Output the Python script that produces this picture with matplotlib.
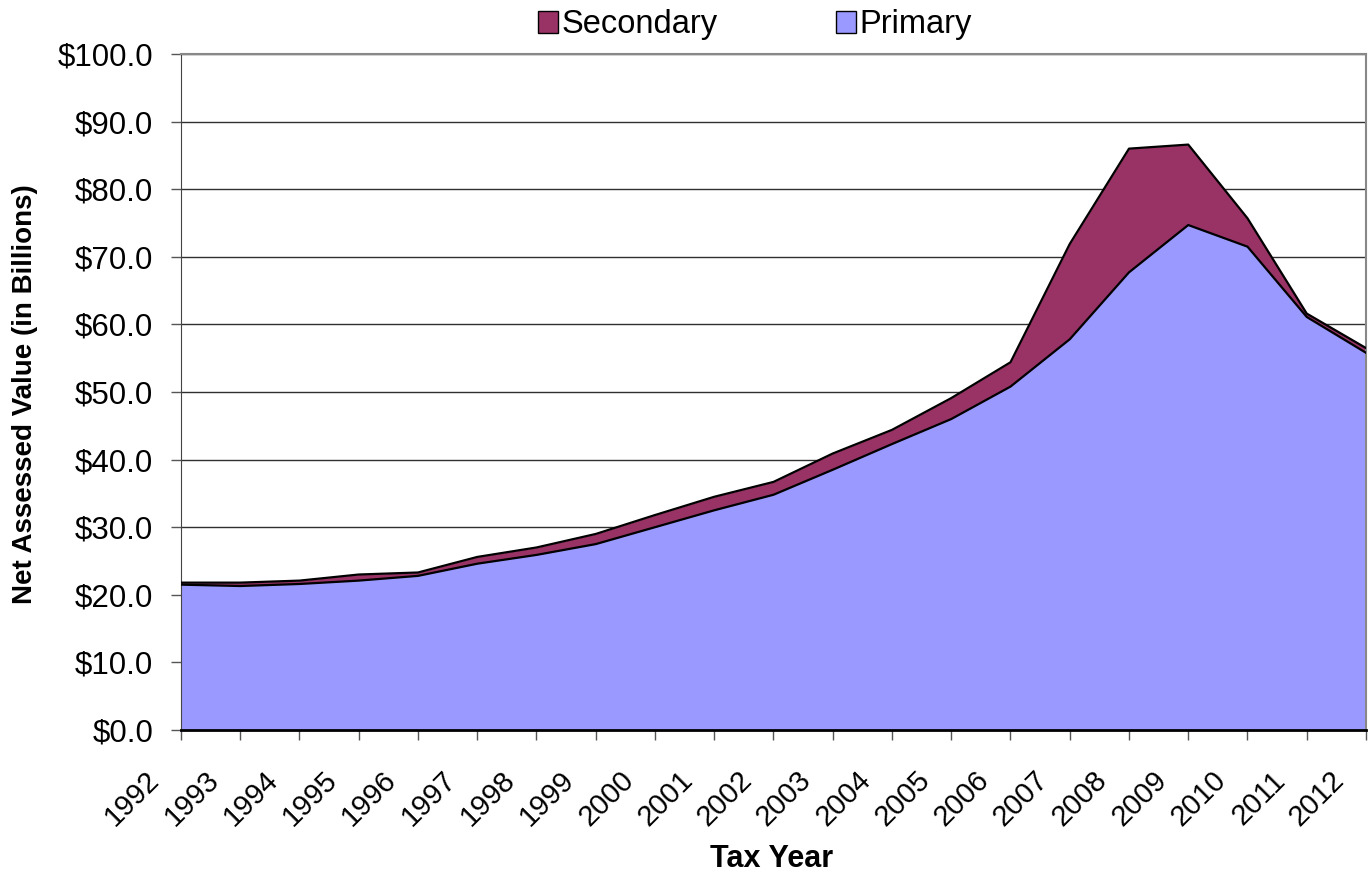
import numpy as np
import matplotlib.pyplot as plt
from matplotlib.patches import Patch
import matplotlib.transforms as mtransforms

plt.rcParams['font.family'] = ['Liberation Sans', 'DejaVu Sans']

years = list(range(1992, 2013))
# in billions of dollars
primary = [21.5, 21.3, 21.6, 22.1, 22.8, 24.6, 25.9, 27.5, 30.0, 32.5, 34.8,
           38.5, 42.3, 46.0, 50.8, 57.8, 67.7, 74.7, 71.5, 61.1, 55.8]
total = [21.8, 21.8, 22.1, 23.0, 23.3, 25.6, 27.0, 29.0, 31.8, 34.5, 36.7,
         40.9, 44.4, 49.1, 54.4, 71.9, 86.0, 86.6, 75.7, 61.6, 56.5]
secondary = [t - p for t, p in zip(total, primary)]

y_ticks = np.arange(0, 101, 10)

fig = plt.figure(figsize=(13.71, 8.77), dpi=100)
ax = fig.add_axes([181 / 1371, 1 - 730 / 877, (1366 - 181) / 1371, (730 - 54) / 877])

x = np.array(years)
prim = np.array(primary)
top = prim + np.array(secondary)

ax.set_axisbelow(True)
ax.grid(axis='y', color='#303030', linewidth=1)
ax.fill_between(x, 0, prim, color='#9999FF', linewidth=0, zorder=2)
ax.fill_between(x, prim, top, color='#993366', linewidth=0, zorder=2)
ax.plot(x, prim, color='black', linewidth=1.6, zorder=3)
ax.plot(x, top, color='black', linewidth=1.6, zorder=3)

ax.set_xlim(1992, 2012)
ax.set_ylim(0, 100)
ax.set_yticks(y_ticks)
ax.set_yticklabels([f"${v:.1f}" for v in y_ticks])
ax.set_xticks(years)
ax.set_xticklabels([str(y) for y in years], rotation=45, ha='right', va='top')

ax.tick_params(axis='y', length=7, width=1, color='#555555', labelsize=22.5, pad=13)
ax.tick_params(axis='x', length=7, width=1, color='#555555', labelsize=21, pad=19)
offset = mtransforms.ScaledTranslation(-0.16, 0, fig.dpi_scale_trans)
for lab in ax.get_xticklabels():
    lab.set_transform(lab.get_transform() + offset)

ax.spines['left'].set_color('#444444')
ax.spines['bottom'].set_color('black')
ax.spines['bottom'].set_linewidth(2)
ax.spines['bottom'].set_zorder(4)
ax.spines['right'].set_color('#888888')
ax.spines['right'].set_linewidth(1.5)
ax.spines['top'].set_color('#888888')
ax.spines['top'].set_linewidth(1.5)

ax.set_xlabel("Tax Year", fontsize=22, fontweight='bold')
ax.set_ylabel("Net Assessed Value (in Billions)", fontsize=20, fontweight='bold')
ax.xaxis.set_label_coords(0.498, -0.168)
ax.yaxis.set_label_coords(-0.121, 0.497)

handles = [Patch(facecolor='#993366', edgecolor='black', label='Secondary'),
           Patch(facecolor='#9999FF', edgecolor='black', label='Primary')]
fig.legend(handles=handles, loc='center', bbox_to_anchor=(755 / 1371, 1 - 25 / 877),
           ncol=2, frameon=False, fontsize=23.5, handlelength=0.62, handleheight=0.62,
           handletextpad=0.12, columnspacing=3.6, borderaxespad=0)

fig.savefig("out.png", dpi=100)
